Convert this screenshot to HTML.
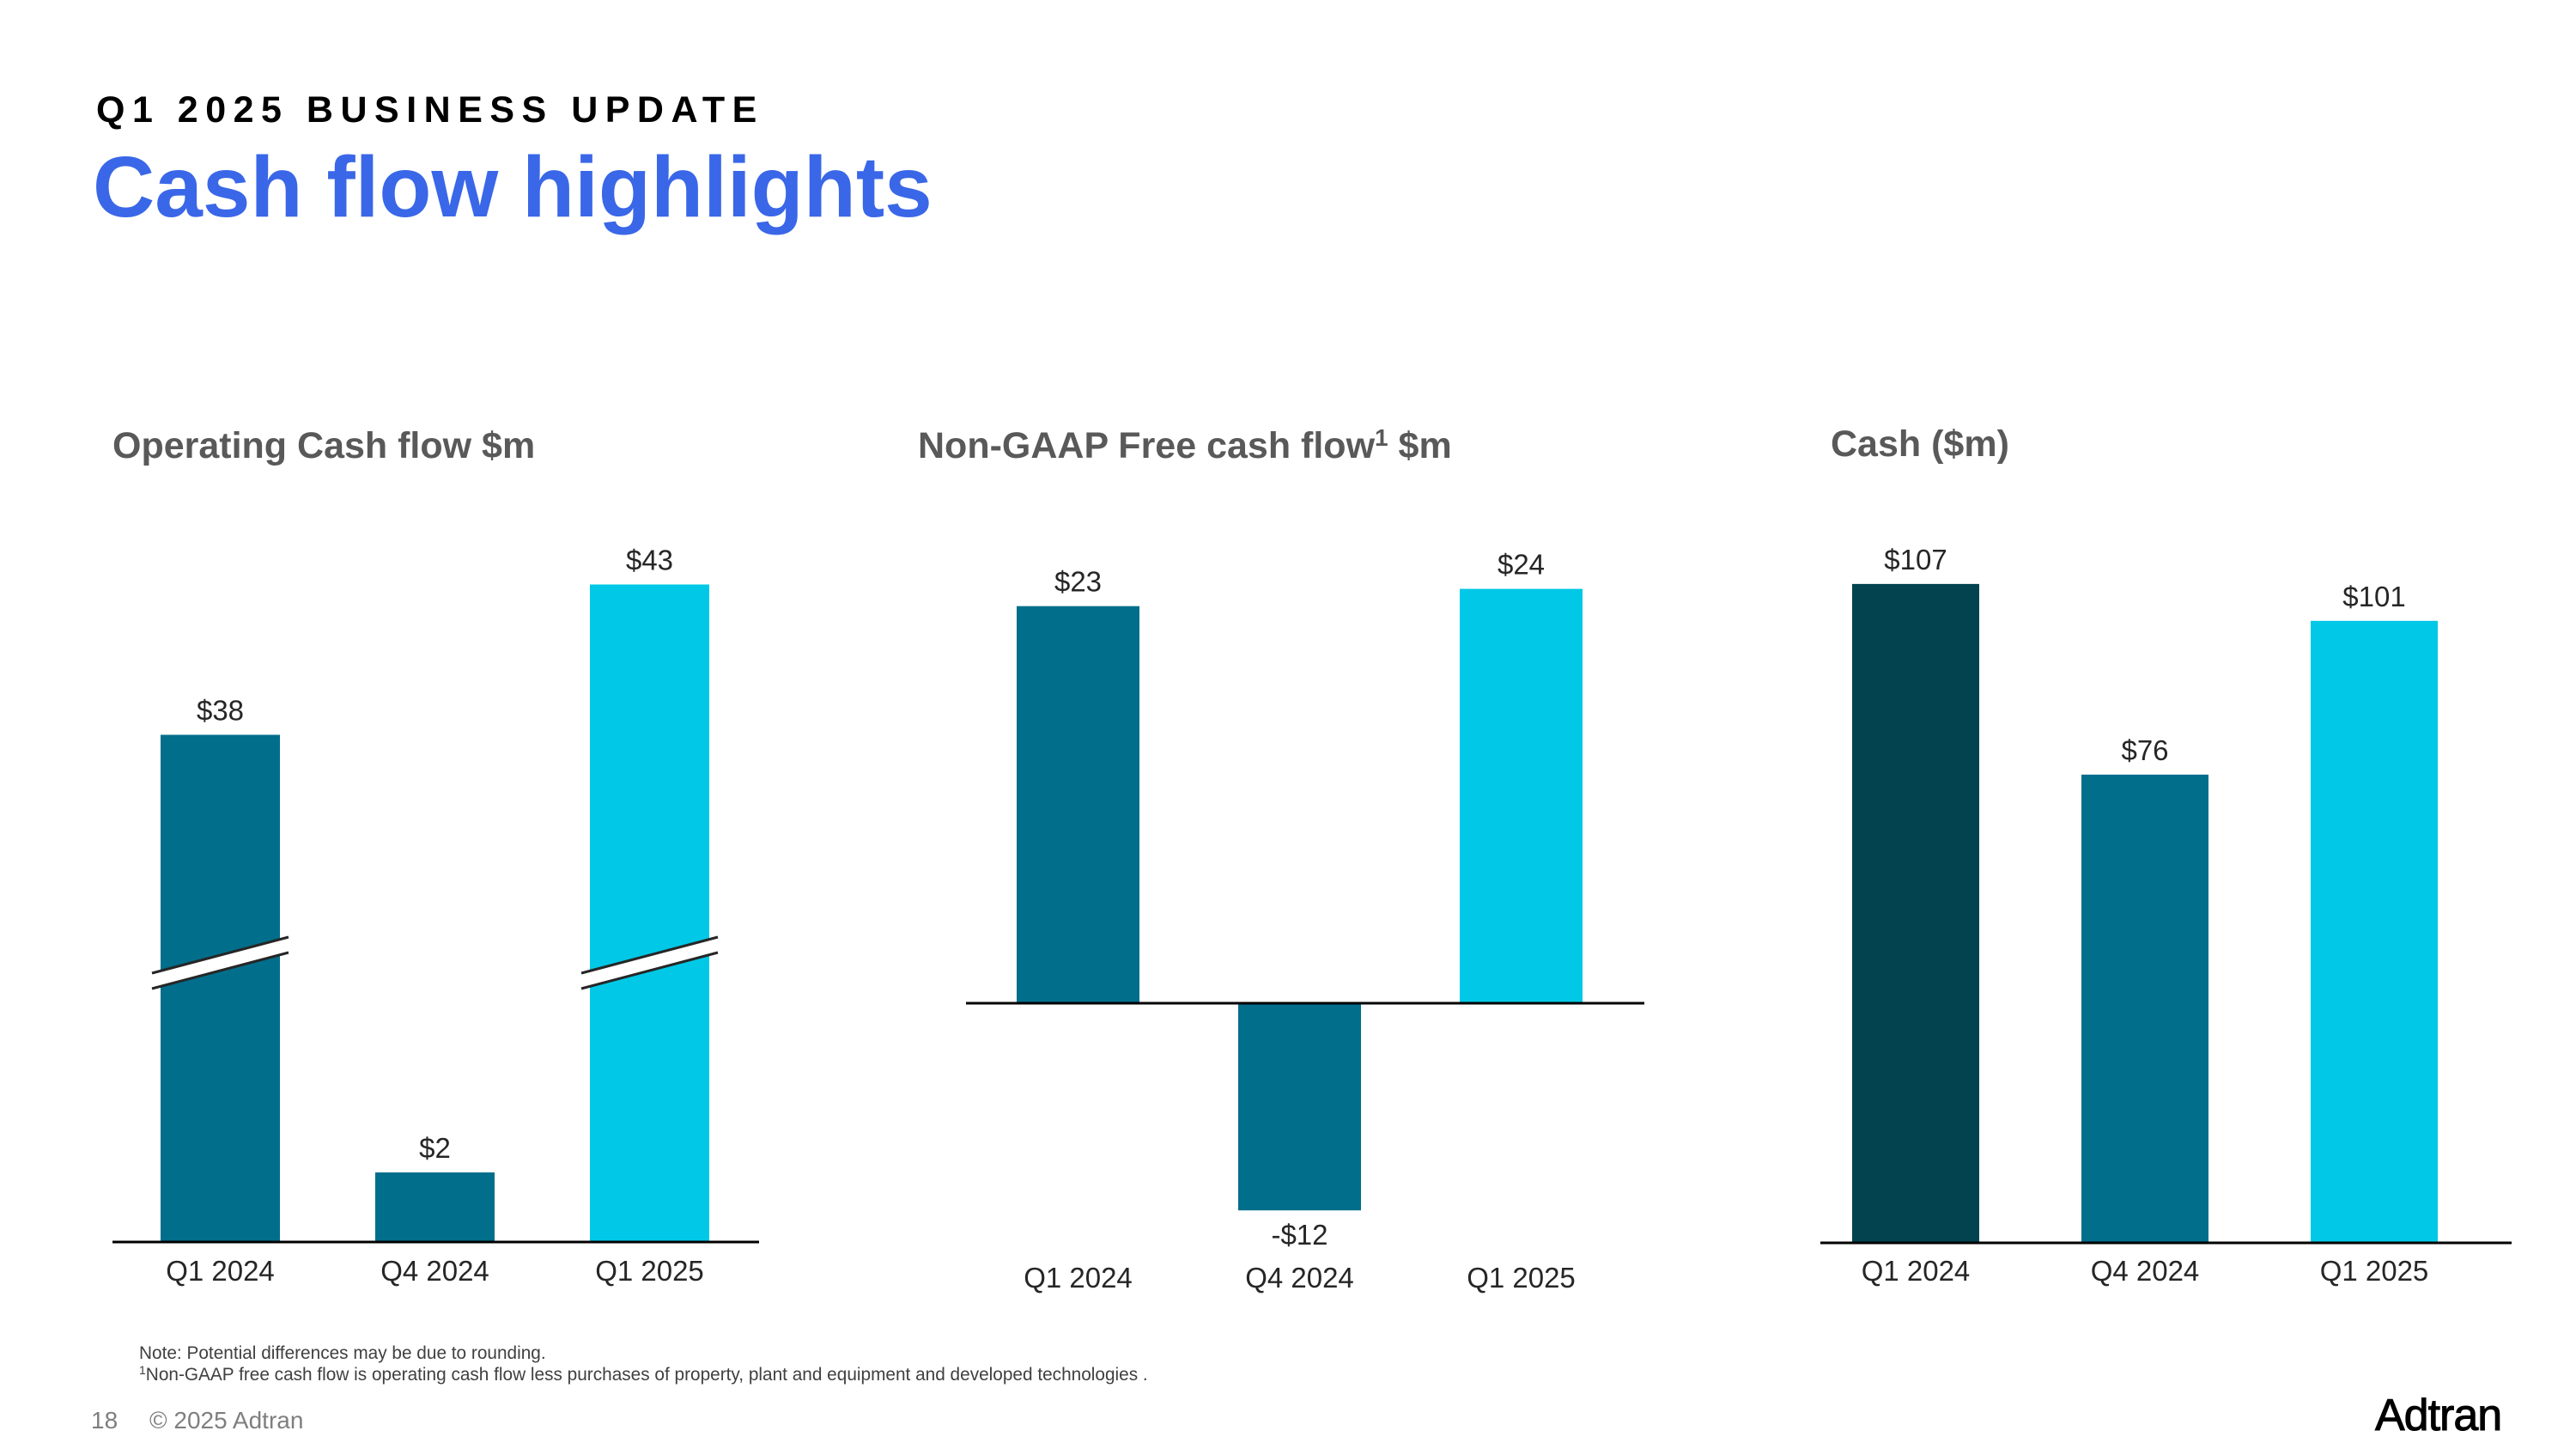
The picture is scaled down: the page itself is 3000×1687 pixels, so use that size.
<!DOCTYPE html>
<html><head><meta charset="utf-8"><style>
html,body{margin:0;padding:0;background:#fff;}
svg{display:block;font-family:"Liberation Sans",Arial,sans-serif;}
</style></head><body>
<svg id="s" width="3000" height="1687" viewBox="0 0 3000 1687" xmlns="http://www.w3.org/2000/svg">
<text x="112" y="142" font-size="43" font-weight="bold" letter-spacing="8.5" fill="#000">Q1 2025 BUSINESS UPDATE</text>
<text x="108" y="252" font-size="100" font-weight="bold" fill="#3a67e8">Cash flow highlights</text>
<text x="131" y="533" font-size="43" font-weight="bold" fill="#595959">Operating Cash flow $m</text>
<text x="1069" y="533" font-size="43" font-weight="bold" fill="#595959">Non-GAAP Free cash flow<tspan font-size="28" dy="-14">1</tspan><tspan dy="14"> $m</tspan></text>
<text x="2132" y="531" font-size="43" font-weight="bold" fill="#595959">Cash ($m)</text>
<g id="c1"></g>
<g id="c2"></g>
<g id="c3"></g>
<text x="162" y="1582" font-size="20.8" fill="#404040">Note: Potential differences may be due to rounding.</text>
<text x="162" y="1607" font-size="20.8" fill="#404040"><tspan font-size="14" dy="-7">1</tspan><tspan dy="7">Non-GAAP free cash flow is operating cash flow less purchases of property, plant and equipment and developed technologies .</tspan></text>
<text x="106" y="1663" font-size="28" fill="#7f7f7f">18</text>
<text x="174" y="1663" font-size="28" fill="#7f7f7f">© 2025 Adtran</text>
<text x="2766" y="1665" font-size="52" fill="#000" stroke="#000" stroke-width="1" letter-spacing="-1">Adtran</text>
</svg>
<script>
const categories = ["Q1 2024","Q4 2024","Q1 2025"];
const opValues = [38, 2, 43];
const opLabels = ["$38","$2","$43"];
const fcfValues = [23, -12, 24];
const fcfLabels = ["$23","-$12","$24"];
const cashValues = [107, 76, 101];
const cashLabels = ["$107","$76","$101"];
const colorsA = ["#016e8c","#016e8c","#00c8e6"];
const colorsC = ["#03424f","#016e8c","#00c8e6"];
const NS="http://www.w3.org/2000/svg";
function mk(tag, attrs, parent){const e=document.createElementNS(NS,tag);for(const k in attrs)e.setAttribute(k,attrs[k]);parent.appendChild(e);return e;}

// Chart 1: broken axis
(function(){
  const g=document.getElementById('c1');
  const base=1445, x0=187, step=250, bw=139;
  const lowK=40, breakH=334, upperStart=30.7, upperK=35;
  function h(v){return v*lowK<=breakH ? v*lowK : breakH+(v-upperStart)*upperK;}
  opValues.forEach((v,i)=>{
    const x=x0+i*step, hh=h(v);
    const r=mk('rect',{x:x,y:base-hh,width:bw,height:hh,fill:colorsA[i]},g);
    
    
    const t=mk('text',{x:x+bw/2,y:base-hh-17,'font-size':33,'text-anchor':'middle',fill:'#262626'},g);
    t.textContent=opLabels[i];
    
    
    const c=mk('text',{x:x+bw/2,y:1491,'font-size':33,'text-anchor':'middle',fill:'#262626'},g);
    c.textContent=categories[i];
    
    
    if(v*lowK>breakH){
      const yb=base-breakH;
      const p=mk('polygon',{points:`${x-10},${yb+22} ${x+bw+10},${yb-20} ${x+bw+10},${yb-2} ${x-10},${yb+40}`,fill:'#fff'},g);
      
      
      const l1=mk('line',{x1:x-10,y1:yb+22,x2:x+bw+10,y2:yb-20,stroke:'#262626','stroke-width':3},g);
      
      
      const l2=mk('line',{x1:x-10,y1:yb+40,x2:x+bw+10,y2:yb-2,stroke:'#262626','stroke-width':3},g);
      
      
    }
  });
  const ax=mk('line',{x1:131,y1:base+1,x2:884,y2:base+1,stroke:'#000','stroke-width':3},g);
  
  
})();

// Chart 2: zero-centered
(function(){
  const g=document.getElementById('c2');
  const zero=1168, x0=1184, step=258, bw=143, k=20.1;
  function y(v){return zero-v*k;}
  fcfValues.forEach((v,i)=>{
    const x=x0+i*step, top=Math.min(y(v),zero), hh=Math.abs(v*k);
    const r=mk('rect',{x:x,y:top,width:bw,height:hh,fill:colorsA[i]},g);
    
    
    const ly = v>=0 ? y(v)-17 : y(v)+40;
    const t=mk('text',{x:x+bw/2,y:ly,'font-size':33,'text-anchor':'middle',fill:'#262626'},g);
    t.textContent=fcfLabels[i];
    
    
    const c=mk('text',{x:x+bw/2,y:1499,'font-size':33,'text-anchor':'middle',fill:'#262626'},g);
    c.textContent=categories[i];
    
    
  });
  const ax=mk('line',{x1:1125,y1:zero,x2:1915,y2:zero,stroke:'#000','stroke-width':3},g);
  
  
})();

// Chart 3
(function(){
  const g=document.getElementById('c3');
  const base=1446, x0=2157, step=267, bw=148, k=7.16;
  cashValues.forEach((v,i)=>{
    const x=x0+i*step, hh=v*k;
    const r=mk('rect',{x:x,y:base-hh,width:bw,height:hh,fill:colorsC[i]},g);
    
    
    const t=mk('text',{x:x+bw/2,y:base-hh-17,'font-size':33,'text-anchor':'middle',fill:'#262626'},g);
    t.textContent=cashLabels[i];
    
    
    const c=mk('text',{x:x+bw/2,y:1491,'font-size':33,'text-anchor':'middle',fill:'#262626'},g);
    c.textContent=categories[i];
    
    
  });
  const ax=mk('line',{x1:2120,y1:base+1,x2:2925,y2:base+1,stroke:'#000','stroke-width':3},g);
  
  
})();
</script>
</body></html>
